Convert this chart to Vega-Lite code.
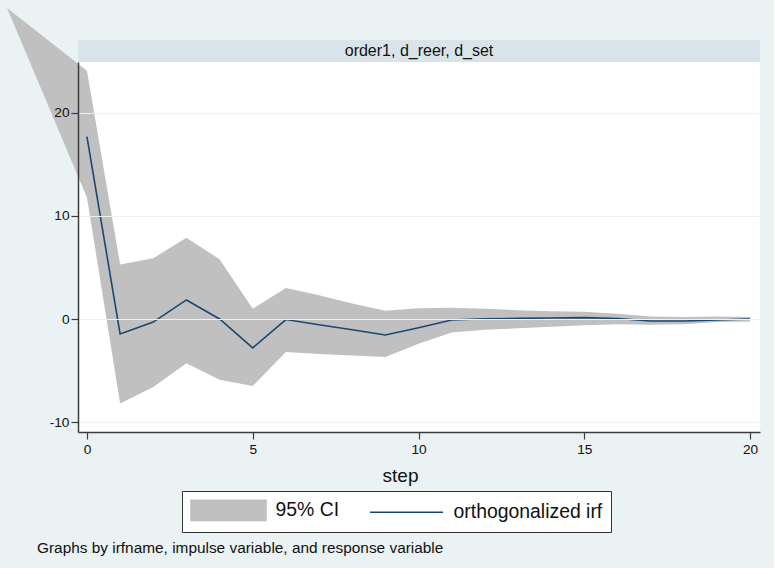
{
  "$schema": "https://vega.github.io/schema/vega-lite/v6.json",
  "autosize": {"type": "pad"},
  "padding": {"left": 7, "top": 7, "right": 14, "bottom": 11},
  "background": "#EAF2F3",
  "bounds": "flush",
  "config": {
    "font": "Liberation Sans",
    "view": {"stroke": null},
    "axis": {
      "domainColor": "#3C3C3C",
      "domainWidth": 1.5,
      "tickColor": "#3C3C3C",
      "tickWidth": 1.2,
      "tickSize": 7,
      "labelFont": "Liberation Sans",
      "labelFontSize": 13.7,
      "labelColor": "#111111",
      "titleFont": "Liberation Sans",
      "titleFontWeight": "normal",
      "titleColor": "#111111",
      "gridColor": "#EAF2F3",
      "gridWidth": 1
    },
    "legend": {
      "title": null,
      "orient": "none",
      "legendX": 104,
      "legendY": 451,
      "direction": "horizontal",
      "strokeColor": "#333333",
      "fillColor": "white",
      "padding": 8,
      "columnPadding": 26,
      "labelFontSize": 19.4,
      "labelFont": "Liberation Sans",
      "labelColor": "#111111",
      "symbolSize": 400,
      "labelOffset": 36,
      "symbolOffset": 27.5
    }
  },
  "datasets": {
    "irf": [
      {"step": -2.41, "lo": 30.2, "hi": 30.2},
      {"step": 0, "lo": 11.8, "hi": 24.1, "irf": 17.7},
      {"step": 1, "lo": -8.2, "hi": 5.3, "irf": -1.45},
      {"step": 2, "lo": -6.6, "hi": 5.9, "irf": -0.3},
      {"step": 3, "lo": -4.3, "hi": 7.9, "irf": 1.85},
      {"step": 4, "lo": -5.9, "hi": 5.8, "irf": 0.0},
      {"step": 5, "lo": -6.5, "hi": 1.0, "irf": -2.8},
      {"step": 6, "lo": -3.2, "hi": 3.0, "irf": -0.05},
      {"step": 7, "lo": -3.4, "hi": 2.3, "irf": -0.55},
      {"step": 8, "lo": -3.55, "hi": 1.5, "irf": -1.05},
      {"step": 9, "lo": -3.7, "hi": 0.8, "irf": -1.55},
      {"step": 10, "lo": -2.4, "hi": 1.05, "irf": -0.85},
      {"step": 11, "lo": -1.3, "hi": 1.1, "irf": -0.1},
      {"step": 12, "lo": -1.05, "hi": 1.0, "irf": 0.03},
      {"step": 13, "lo": -0.9, "hi": 0.85, "irf": 0.06},
      {"step": 14, "lo": -0.75, "hi": 0.75, "irf": 0.1},
      {"step": 15, "lo": -0.6, "hi": 0.7, "irf": 0.13},
      {"step": 16, "lo": -0.5, "hi": 0.5, "irf": 0.05},
      {"step": 17, "lo": -0.55, "hi": 0.25, "irf": -0.2},
      {"step": 18, "lo": -0.5, "hi": 0.2, "irf": -0.2},
      {"step": 19, "lo": -0.3, "hi": 0.25, "irf": -0.1},
      {"step": 20, "lo": -0.25, "hi": 0.2, "irf": 0.0}
    ],
    "strip": [{"label": "order1, d_reer, d_set"}]
  },
  "vconcat": [
    {
      "width": 682,
      "height": 22,
      "view": {"fill": "#D9E4EA", "stroke": null},
      "data": {"name": "strip"},
      "mark": {"type": "text", "fontSize": 16, "color": "#111111", "baseline": "middle", "align": "center"},
      "encoding": {"text": {"field": "label"}}
    },
    {
      "width": 682,
      "height": 370,
      "view": {"fill": "white", "stroke": null},
      "data": {"name": "irf"},
      "title": {
        "text": "Graphs by irfname, impulse variable, and response variable",
        "orient": "bottom",
        "anchor": "start",
        "frame": "group",
        "dx": -41,
        "offset": 56,
        "fontSize": 15.4,
        "fontWeight": "normal",
        "color": "#111111",
        "font": "Liberation Sans"
      },
      "encoding": {
        "x": {
          "field": "step",
          "type": "quantitative",
          "scale": {"domain": [-0.27, 20.3], "nice": false, "zero": false},
          "axis": {
            "title": "step",
            "titleFontSize": 19,
            "titleX": 322,
            "titleY": 49,
            "titleBaseline": "alphabetic",
            "values": [0, 5, 10, 15, 20],
            "grid": false,
            "labelPadding": 3,
            "zindex": 1
          }
        },
        "color": {
          "field": "series",
          "type": "nominal",
          "scale": {"domain": ["95% CI", "orthogonalized irf"], "range": ["#C0C0C0", "#1A476F"]},
          "legend": {
            "encode": {
              "symbols": {
                "update": {
                  "shape": {"signal": "datum.value === '95% CI' ? 'M-3.75,-1H3.75V1H-3.75Z' : 'M-3.65,0H3.65'"},
                  "fill": {"signal": "datum.value === '95% CI' ? '#C0C0C0' : 'transparent'"},
                  "stroke": {"signal": "datum.value === '95% CI' ? 'transparent' : '#1A476F'"},
                  "strokeWidth": {"value": 1.6},
                  "size": {"value": 400},
                  "opacity": {"value": 1}
                }
              }
            }
          }
        }
      },
      "layer": [
        {
          "transform": [{"calculate": "'95% CI'", "as": "series"}],
          "mark": {"type": "area", "clip": false, "opacity": 1},
          "encoding": {
            "y": {
              "field": "lo",
              "type": "quantitative",
              "scale": {"domain": [-10.97, 24.95], "nice": false, "zero": false},
              "axis": {
                "title": null,
                "values": [-10, 0, 10, 20],
                "labelExpr": "'' + datum.value",
                "grid": true,
                "labelPadding": 2,
                "zindex": 1
              }
            },
            "y2": {"field": "hi"}
          }
        },
        {
          "transform": [{"calculate": "'orthogonalized irf'", "as": "series"}],
          "mark": {"type": "line", "strokeWidth": 1.6},
          "encoding": {
            "y": {"field": "irf", "type": "quantitative"}
          }
        }
      ]
    }
  ],
  "spacing": 0
}
